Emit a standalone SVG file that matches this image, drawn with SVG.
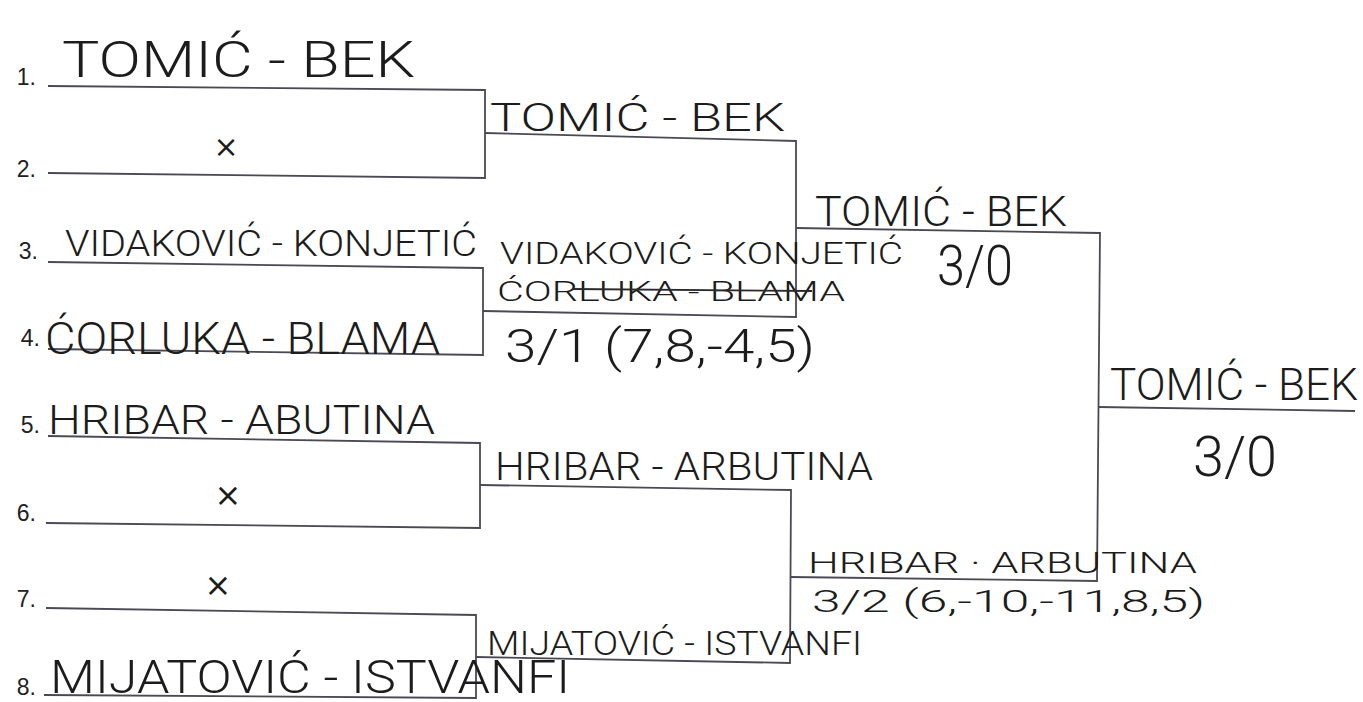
<svg xmlns="http://www.w3.org/2000/svg" width="1363" height="702" viewBox="0 0 1363 702">
<style>
.bg{fill:#ffffff}
.ln{fill:none;stroke:#4a4a55;stroke-width:1.8;stroke-linejoin:miter}
.num{font-family:"Liberation Sans",Arial,sans-serif;fill:#222;text-anchor:end}
.hw{font-family:Roboto,"Liberation Sans",sans-serif;font-weight:300;fill:#1c1c1c}
.mk{font-family:"DejaVu Sans",sans-serif;fill:#1c1c1c;text-anchor:middle}
.strike{stroke:#2a2a2a;stroke-width:1.8;fill:none}
</style>
<rect class="bg" x="0" y="0" width="1363" height="702"/>
<g id="connectors">
  <path class="ln" d="M48,86 L485,90 L485,178 L48,173"/>
  <path class="ln" d="M48,262 L483,268 L483,355 L48,349"/>
  <path class="ln" d="M48,436 L480,443 L480,528 L46,523"/>
  <path class="ln" d="M46,608 L476,615 L476,698 L44,695"/>
  <path class="ln" d="M485,133 L796,141 L796,317 L483,311"/>
  <path class="ln" d="M480,485 L791,490 L790,663 L476,657"/>
  <path class="ln" d="M796,228 L1100,233 L1097,581 L790,577"/>
  <path class="ln" d="M1098,407 L1355,411"/>
</g>
<g id="r1-slot1">
  <text class="num" x="36" y="85" font-size="23">1.</text>
  <text class="hw" x="62" y="77" font-size="50" textLength="353" lengthAdjust="spacingAndGlyphs">TOMIĆ - BEK</text>
</g>
<g id="r1-slot2">
  <text class="num" x="36" y="177" font-size="23">2.</text>
  <text class="mk" x="226" y="157" font-size="30">×</text>
</g>
<g id="r1-slot3">
  <text class="num" x="38" y="259" font-size="23">3.</text>
  <text class="hw" x="65" y="256" font-size="36" textLength="412" lengthAdjust="spacingAndGlyphs">VIDAKOVIĆ - KONJETIĆ</text>
</g>
<g id="r1-slot4">
  <text class="num" x="40" y="346" font-size="23">4.</text>
  <text class="hw" x="45" y="354" font-size="44" textLength="395" lengthAdjust="spacingAndGlyphs">ĆORLUKA - BLAMA</text>
</g>
<g id="r1-slot5">
  <text class="num" x="40" y="433" font-size="23">5.</text>
  <text class="hw" x="48" y="434" font-size="40" textLength="387" lengthAdjust="spacingAndGlyphs">HRIBAR - ABUTINA</text>
</g>
<g id="r1-slot6">
  <text class="num" x="36" y="521" font-size="23">6.</text>
  <text class="mk" x="228" y="506" font-size="32">×</text>
</g>
<g id="r1-slot7">
  <text class="num" x="36" y="607" font-size="23">7.</text>
  <text class="mk" x="218" y="596" font-size="32">×</text>
</g>
<g id="r1-slot8">
  <text class="num" x="36" y="695" font-size="23">8.</text>
  <text class="hw" x="50" y="693" font-size="46" textLength="520" lengthAdjust="spacingAndGlyphs">MIJATOVIĆ - ISTVANFI</text>
</g>
<g id="r2-match1">
  <text class="hw" x="490" y="131" font-size="38" textLength="295" lengthAdjust="spacingAndGlyphs">TOMIĆ - BEK</text>
</g>
<g id="r2-match2">
  <text class="hw" x="500" y="264" font-size="32" textLength="403" lengthAdjust="spacingAndGlyphs">VIDAKOVIĆ - KONJETIĆ</text>
  <text class="hw" x="497" y="301" font-size="28" textLength="348" lengthAdjust="spacingAndGlyphs">ĆORLUKA - BLAMA</text>
  <path class="strike" d="M572,289 L812,291"/>
  <text class="hw" x="505" y="362" font-size="46" textLength="310" lengthAdjust="spacingAndGlyphs">3/1 (7,8,-4,5)</text>
</g>
<g id="r2-match3">
  <text class="hw" x="495" y="480" font-size="38" textLength="378" lengthAdjust="spacingAndGlyphs">HRIBAR - ARBUTINA</text>
</g>
<g id="r2-match4">
  <text class="hw" x="487" y="655" font-size="34" textLength="375" lengthAdjust="spacingAndGlyphs">MIJATOVIĆ - ISTVANFI</text>
</g>
<g id="r3-match1">
  <text class="hw" x="815" y="226" font-size="42" textLength="252" lengthAdjust="spacingAndGlyphs">TOMIĆ - BEK</text>
  <text class="hw" x="937" y="285" font-size="56" textLength="76" lengthAdjust="spacingAndGlyphs">3/0</text>
</g>
<g id="r3-match2">
  <text class="hw" x="808" y="573" font-size="30" textLength="389" lengthAdjust="spacingAndGlyphs">HRIBAR · ARBUTINA</text>
  <text class="hw" x="812" y="612" font-size="31" textLength="393" lengthAdjust="spacingAndGlyphs">3/2 (6,-10,-11,8,5)</text>
</g>
<g id="final">
  <text class="hw" x="1110" y="400" font-size="44" textLength="248" lengthAdjust="spacingAndGlyphs">TOMIĆ - BEK</text>
  <text class="hw" x="1193" y="476" font-size="56" textLength="84" lengthAdjust="spacingAndGlyphs">3/0</text>
</g>
</svg>
